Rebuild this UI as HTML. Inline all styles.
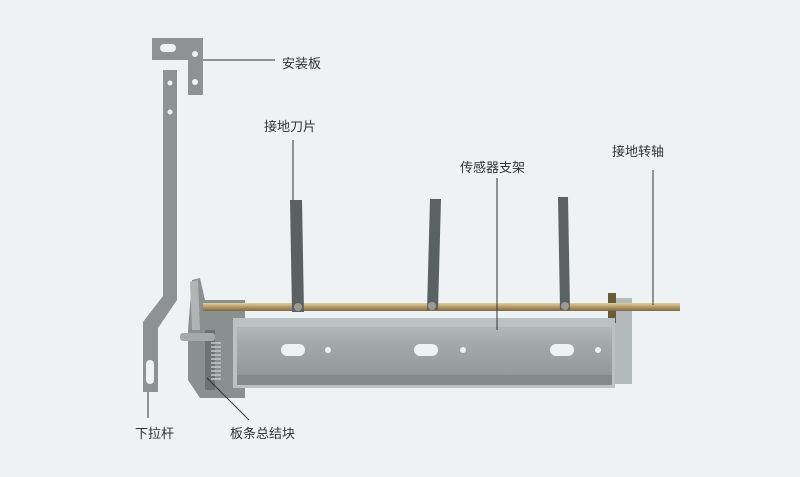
<!DOCTYPE html>
<html><head><meta charset="utf-8"><style>
html,body{margin:0;padding:0;background:#eef2f5;}
svg{display:block}
text{font-family:"Liberation Sans","Noto Sans CJK SC",sans-serif;font-size:13px;fill:#333}
</style></head><body>
<svg width="800" height="477" viewBox="0 0 800 477">
<defs>
<linearGradient id="rod" x1="0" y1="0" x2="0" y2="1"><stop offset="0" stop-color="#e0cfa0"/><stop offset="0.5" stop-color="#b49866"/><stop offset="1" stop-color="#7e6a44"/></linearGradient>
<linearGradient id="plate" x1="0" y1="0" x2="0" y2="1"><stop offset="0" stop-color="#b2b7b9"/><stop offset="0.3" stop-color="#a3a8aa"/><stop offset="1" stop-color="#8e9496"/></linearGradient>
</defs>
<rect width="800" height="477" fill="#eef2f5"/>
<path d="M152,38 H203 V95 H188 V60 H152 Z" fill="#8f9293"/>
<rect x="160" y="44" width="16" height="8" rx="4" fill="#eef2f5"/>
<circle cx="195" cy="54" r="3" fill="#eef2f5"/><circle cx="195" cy="82" r="3" fill="#eef2f5"/>
<path d="M163,70 H177 V300 L158,328 V392 H143 V322 L163,296 Z" fill="#8d9292"/>
<circle cx="170" cy="83" r="2.5" fill="#eef2f5"/><circle cx="170" cy="112" r="2.5" fill="#eef2f5"/>
<rect x="146" y="360" width="8" height="24" rx="4" fill="#eef2f5"/>
<path d="M192,280 L200,278 L205,300 H245 V398 H200 L188,380 V330 Z" fill="#8a8f90"/>
<path d="M190,282 L198,280 L200,330 L192,330 Z" fill="#b0b4b5"/>
<rect x="205" y="330" width="10" height="60" fill="#6d7273"/>
<rect x="180" y="333" width="35" height="8" rx="3" fill="#a4a9aa"/>
<g stroke="#c8cacb" stroke-width="1.5"><path d="M211,343 h10 M211,347 h10 M211,351 h10 M211,355 h10 M211,359 h10 M211,363 h10 M211,367 h10 M211,371 h10 M211,375 h10 M211,379 h10"/></g>
<rect x="612" y="298" width="20" height="86" fill="#b3b8ba"/>
<rect x="608" y="293" width="8" height="30" fill="#6a5a3a"/>
<rect x="233" y="318" width="382" height="70" fill="#bcc1c3"/>
<path d="M237,327 H612 V380 L600,385 H237 Z" fill="url(#plate)"/>
<rect x="237" y="375" width="375" height="10" fill="#858b8d"/>
<rect x="281" y="344" width="24" height="12" rx="6" fill="#eef2f5"/>
<rect x="414" y="344" width="24" height="12" rx="6" fill="#eef2f5"/>
<rect x="550" y="344" width="24" height="12" rx="6" fill="#eef2f5"/>
<circle cx="328" cy="350" r="3" fill="#eef2f5"/><circle cx="463" cy="350" r="3" fill="#eef2f5"/><circle cx="598" cy="350" r="3" fill="#eef2f5"/>
<rect x="203" y="303" width="477" height="8" fill="url(#rod)"/>
<path d="M290,200 H302 L304,312 H292 Z" fill="#5b6163"/>
<path d="M430,199 H441 L438,310 H427 Z" fill="#5b6163"/>
<path d="M558,197 H568 L570,310 H560 Z" fill="#5b6163"/>
<circle cx="298" cy="307" r="4" fill="#9a9a94"/><circle cx="432" cy="306" r="4" fill="#9a9a94"/><circle cx="565" cy="306" r="4" fill="#9a9a94"/>
<g stroke="#333" stroke-width="1" fill="none">
<line x1="203" y1="60" x2="275" y2="60"/>
<line x1="293" y1="140" x2="293" y2="200"/>
<line x1="497" y1="178" x2="497" y2="330"/>
<line x1="653" y1="170" x2="653" y2="305"/>
<line x1="148" y1="392" x2="148" y2="418"/>
<line x1="207" y1="378" x2="249" y2="420"/>
</g>
<text x="282" y="68">安装板</text>
<text x="264" y="131">接地刀片</text>
<text x="460" y="172">传感器支架</text>
<text x="612" y="156">接地转轴</text>
<text x="135" y="438">下拉杆</text>
<text x="230" y="438">板条总结块</text>
</svg>
</body></html>
